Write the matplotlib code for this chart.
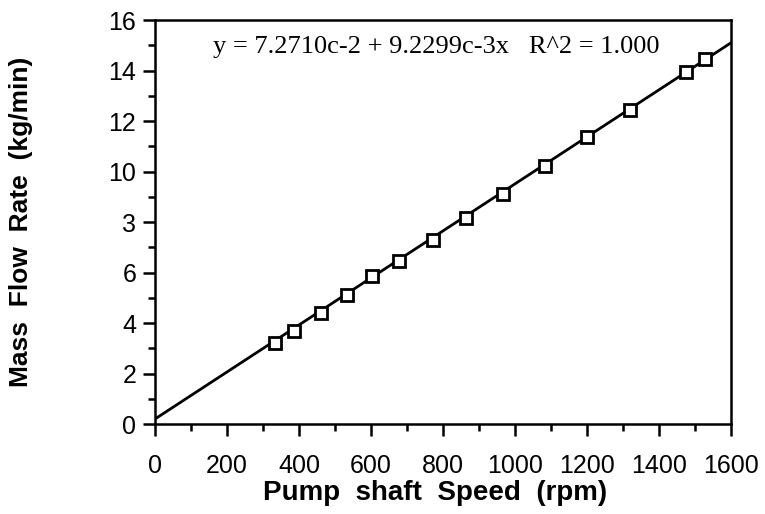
import matplotlib
matplotlib.use("Agg")
import matplotlib.pyplot as plt
from matplotlib.ticker import MultipleLocator, FixedLocator

# pump speed (rpm) vs mass flow rate (kg/min)
speed = [334, 385, 460, 532, 604, 678, 771, 865, 966, 1082, 1200, 1320, 1476, 1527]
flow = [3.2, 3.7, 4.38, 5.1, 5.85, 6.45, 7.3, 8.15, 9.1, 10.2, 11.38, 12.44, 13.95, 14.44]

# regression line as drawn
fit_x = [0, 1600]
fit_y = [0.2, 15.1]

xticks = [0, 200, 400, 600, 800, 1000, 1200, 1400, 1600]
yticks = [0, 2, 4, 6, 8, 10, 12, 14, 16]
ytick_labels = ["0", "2", "4", "6", "3", "10", "12", "14", "16"]

equation = "y = 7.2710c-2 + 9.2299c-3x   R^2 = 1.000"

plt.rcParams["font.family"] = ["Liberation Sans", "DejaVu Sans"]

fig = plt.figure(figsize=(7.65, 5.14), dpi=100)
ax = fig.add_axes([0.2026, 0.175, 0.753, 0.786])

ax.plot(fit_x, fit_y, color="black", lw=2.0, zorder=2)
ax.plot(speed, flow, ls="none", marker="s", ms=9, mfc="white", mec="black",
        mew=2.0, zorder=3)

ax.set_xlim(0, 1600)
ax.set_ylim(0, 16)
ax.xaxis.set_major_locator(FixedLocator(xticks))
ax.xaxis.set_minor_locator(MultipleLocator(100))
ax.yaxis.set_major_locator(FixedLocator(yticks))
ax.yaxis.set_minor_locator(MultipleLocator(1))
ax.set_yticklabels(ytick_labels)

ax.tick_params(which="major", direction="out", length=8.5, width=1.8,
               labelsize=18)
ax.tick_params(axis="x", which="major", pad=13)
ax.tick_params(axis="y", which="major", pad=5)
ax.tick_params(which="minor", direction="out", length=5, width=1.8)
ax.tick_params(top=False, right=False)
for s in ax.spines.values():
    s.set_linewidth(1.8)

ax.set_xlabel("Pump  shaft  Speed  (rpm)", fontsize=20, fontweight="bold")
ax.set_ylabel("Mass  Flow  Rate  (kg/min)", fontsize=19, fontweight="bold")
ax.xaxis.label.set_va("center")
ax.yaxis.label.set_va("center")
ax.xaxis.set_label_coords(0.487, -0.171)
ax.yaxis.set_label_coords(-0.232, 0.5)

ax.text(782, 14.95, equation, family=["Liberation Serif", "DejaVu Serif"],
        fontsize=19, ha="center", va="center")

fig.savefig("out.png", dpi=100)
